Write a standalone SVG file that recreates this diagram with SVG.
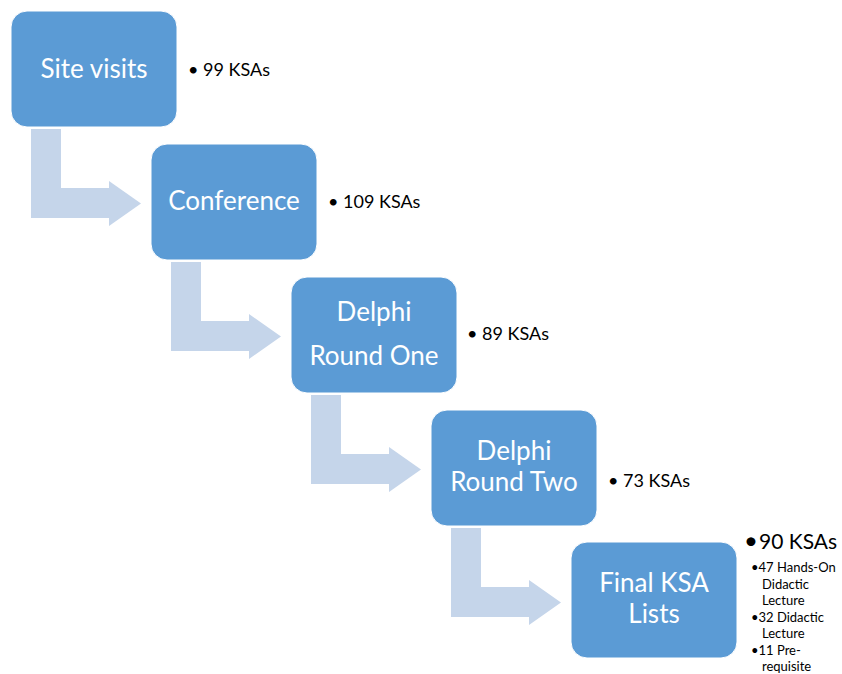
<svg xmlns="http://www.w3.org/2000/svg" width="842" height="674" viewBox="0 0 842 674">
<defs>
<style>
.box{fill:#5B9BD5;stroke:#ffffff;stroke-width:1}
.arr{fill:#C5D5EA}
.bt{font-family:Lato,"Open Sans",sans-serif;font-size:26px;fill:#ffffff;text-anchor:middle}
.lb{font-family:Lato,"Open Sans",sans-serif;font-size:18px;fill:#000000}
.lg{font-family:Lato,"Open Sans",sans-serif;font-size:24px;fill:#000000}
.lg2{font-family:Lato,"Open Sans",sans-serif;font-size:21px;fill:#000000}
.sm{font-family:Lato,"Open Sans",sans-serif;font-size:13px;fill:#000000}
</style>
</defs>
<rect width="842" height="674" fill="#ffffff"/>
<g id="connectors">
<path class="arr" d="M31,129 H61 V188 H109 V181 L141,203.5 L109,226 V218 H31 Z"/>
<path class="arr" d="M171,262 H201 V321 H249 V314 L281,336.5 L249,359 V351 H171 Z"/>
<path class="arr" d="M311,395 H341 V454 H389 V447 L421,469.5 L389,492 V484 H311 Z"/>
<path class="arr" d="M451,528 H481 V587 H529 V580 L561,602.5 L529,625 V617 H451 Z"/>
</g>
<g id="node-site-visits">
<rect class="box" x="11" y="11" width="166" height="116" rx="16"/>
<text class="bt" x="94" y="78">Site visits</text>
<text class="lb" x="188" y="76">• 99 KSAs</text>
</g>
<g id="node-conference">
<rect class="box" x="151" y="144" width="166" height="116" rx="16"/>
<text class="bt" x="234" y="210">Conference</text>
<text class="lb" x="328" y="208">• 109 KSAs</text>
</g>
<g id="node-delphi-one">
<rect class="box" x="291" y="277" width="166" height="116" rx="16"/>
<text class="bt" x="374" y="321">Delphi</text>
<text class="bt" x="374" y="365">Round One</text>
<text class="lb" x="467" y="340">• 89 KSAs</text>
</g>
<g id="node-delphi-two">
<rect class="box" x="431" y="410" width="166" height="116" rx="16"/>
<text class="bt" x="514" y="460">Delphi</text>
<text class="bt" x="514" y="491">Round Two</text>
<text class="lb" x="608" y="487">• 73 KSAs</text>
</g>
<g id="node-final">
<rect class="box" x="571" y="542" width="166" height="116" rx="16"/>
<text class="bt" x="654" y="592">Final KSA</text>
<text class="bt" x="654" y="623">Lists</text>
<text class="lg" x="744" y="549">•</text>
<text class="lg2" x="759" y="549">90 KSAs</text>
<text class="sm" x="751" y="572">•47 Hands-On</text>
<text class="sm" x="762" y="589">Didactic</text>
<text class="sm" x="762" y="605">Lecture</text>
<text class="sm" x="751" y="622">•32 Didactic</text>
<text class="sm" x="762" y="638">Lecture</text>
<text class="sm" x="751" y="655">•11 Pre-</text>
<text class="sm" x="762" y="671">requisite</text>
</g>
</svg>
